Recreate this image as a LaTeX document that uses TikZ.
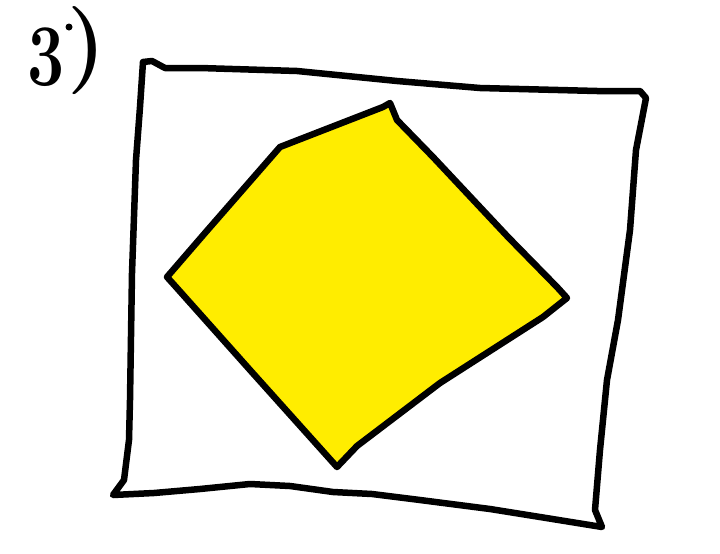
\documentclass[tikz,border=0pt]{standalone}
\usepackage{amsmath}
\usepackage{tikz}

\definecolor{fillyellow}{RGB}{255,237,0}

\begin{document}
\begin{tikzpicture}[x=1pt, y=-1pt,
        pen/.style={line width=6.5pt, line join=round, line cap=round}]
        \useasboundingbox (0, 0) rectangle (720, 554);
        \node[anchor=base west, inner sep=0pt, font=\fontsize{88}{88}\selectfont\bfseries] (num) at (27, 85) {\scalebox{0.75}[1]{3}\kern3pt\raisebox{13pt}{)}};
        \fill (69, 27) circle (3.5);
        \draw[pen] (143, 62) -- (152, 61) -- (165, 68) -- (200, 68) -- (297, 71) -- (397, 81) -- (480, 88) -- (597, 91) -- (640, 91) -- (646, 98)
            -- (636, 150) -- (630, 230) -- (618, 320) -- (607, 380) -- (600, 450) -- (595, 510) -- (602, 527)
            -- (540, 517) -- (490, 509) -- (420, 500) -- (372, 494) -- (333, 492) -- (290, 486) -- (250, 484) -- (200, 489) -- (154, 493) -- (113, 495)
            -- (124, 480) -- (129, 440) -- (130, 400) -- (132, 273) -- (136, 160) -- (140, 107) -- cycle;
        \draw[pen, fill=fillyellow] (390, 103) -- (397, 120) -- (433, 157) -- (508, 237) -- (557, 287) -- (567, 298)
            -- (543, 317) -- (440, 383) -- (357, 446) -- (337, 467)
            -- (250, 370) -- (176, 287) -- (167, 277)
            -- (205, 233) -- (280, 147) -- (383, 107) -- cycle;
    \end{tikzpicture}
\end{document}
